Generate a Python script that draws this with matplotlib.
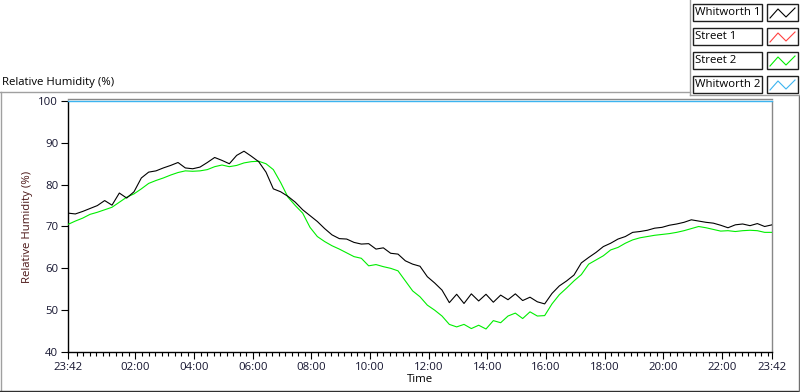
import numpy as np
import matplotlib
matplotlib.use('Agg')
import matplotlib.pyplot as plt
from matplotlib.lines import Line2D
from matplotlib.patches import Rectangle

plt.rcParams['font.family'] = ['Open Sans', 'DejaVu Sans']
plt.rcParams['font.size'] = 8.2

W, H = 800, 392

# time axis: 24 h starting at 23:42, samples every 15 min
start_label = '23:42'
sample_step = 15
tick_labels = ['23:42', '02:00', '04:00', '06:00', '08:00', '10:00', '12:00',
               '14:00', '16:00', '18:00', '20:00', '22:00', '23:42']
y_ticks = [40, 50, 60, 70, 80, 90, 100]

whitworth1 = [73.2, 73.0, 73.6, 74.3, 75.0, 76.2, 75.1, 78.0, 76.8, 78.3,
              81.6, 83.0, 83.3, 84.0, 84.6, 85.3, 84.0, 83.8, 84.2, 85.3,
              86.5, 85.8, 85.0, 87.0, 88.0, 86.8, 85.5, 83.0, 79.0, 78.3,
              77.2, 75.8, 74.0, 72.6, 71.2, 69.5, 68.0, 67.1, 67.0, 66.2,
              65.8, 65.9, 64.6, 64.9, 63.6, 63.4, 61.8, 61.0, 60.5, 58.0,
              56.5, 54.8, 51.8, 53.8, 51.6, 53.9, 52.2, 53.8, 51.9, 53.6,
              52.5, 53.9, 52.3, 53.1, 52.0, 51.5, 54.0, 55.8, 57.0, 58.4,
              61.3, 62.6, 63.8, 65.2, 66.0, 67.0, 67.6, 68.6, 68.8, 69.1,
              69.6, 69.8, 70.3, 70.6, 71.0, 71.6, 71.3, 71.0, 70.8, 70.3,
              69.7, 70.4, 70.6, 70.2, 70.7, 70.0, 70.4]

street2 = [70.5, 71.3, 72.0, 72.9, 73.4, 74.0, 74.6, 75.8, 77.0, 77.8,
           79.0, 80.3, 81.0, 81.6, 82.3, 82.9, 83.3, 83.2, 83.3, 83.6,
           84.3, 84.7, 84.3, 84.6, 85.2, 85.5, 85.6, 85.0, 83.6, 80.5,
           77.0, 75.0, 73.2, 69.8, 67.6, 66.4, 65.4, 64.6, 63.7, 62.8,
           62.4, 60.6, 60.9, 60.4, 60.0, 59.4, 57.0, 54.6, 53.2, 51.2,
           50.0, 48.6, 46.6, 46.0, 46.6, 45.6, 46.4, 45.5, 47.5, 47.0,
           48.6, 49.3, 48.0, 49.6, 48.6, 48.7, 51.5, 53.7, 55.3, 57.0,
           58.5, 61.0, 62.0, 63.0, 64.4, 65.0, 66.0, 66.8, 67.3, 67.6,
           67.9, 68.1, 68.3, 68.6, 69.0, 69.5, 70.0, 69.7, 69.3, 68.9,
           69.0, 68.8, 69.0, 69.1, 69.0, 68.6, 68.6]

whitworth2 = [100.0, 100.0]
street1 = []

names = ['Whitworth 1', 'Street 1', 'Street 2', 'Whitworth 2']
colors = ['#000000', '#ff4040', '#00ee00', '#3cb4f0']


def clock_to_offset(label):
    h, m = map(int, label.split(':'))
    sh, sm = map(int, start_label.split(':'))
    return (h * 60 + m - (sh * 60 + sm)) % 1440


def fx(x):
    return x / W


def fy(y):
    return 1 - y / H


tick_pos = [clock_to_offset(l) for l in tick_labels]
tick_pos[-1] = 1440
minor = np.arange(tick_pos[1] - 120, 1441, 120 / 9)
minor = [m for m in minor if 0 < m < 1440 and min(abs(m - p) for p in tick_pos) > 1]

fig = plt.figure(figsize=(8, 3.92), dpi=100)
ax = fig.add_axes([fx(68), fy(352), fx(772) - fx(68), fy(101) - fy(352)])

t_w1 = np.arange(len(whitworth1)) * sample_step
t_s2 = np.arange(len(street2)) * sample_step
t_w2 = np.array([0, 1440])

ax.plot(t_w2, whitworth2, color=colors[3], lw=1.0, zorder=2.6, clip_on=False)
ax.plot(t_s2, street2, color=colors[2], lw=0.8, zorder=3)
ax.plot(t_w1, whitworth1, color=colors[0], lw=0.8, zorder=4)

ax.set_xlim(0, 1440)
ax.set_ylim(40, 100)
ax.set_xticks(tick_pos)
ax.set_xticklabels(tick_labels)
ax.set_xticks(minor, minor=True)
ax.set_yticks(y_ticks)
ax.tick_params(axis='both', which='major', length=5, width=0.8, direction='out',
               colors='black', labelcolor='#151530', pad=2)
ax.tick_params(axis='x', which='minor', length=3, width=0.8, direction='out')
ax.set_xlabel('Time', labelpad=1)
ax.set_ylabel('Relative Humidity (%)', color='#4a1515', labelpad=4)

for side in ['left', 'bottom']:
    ax.spines[side].set_color('black')
    ax.spines[side].set_linewidth(1)
for side in ['top', 'right']:
    ax.spines[side].set_color('#888888')
    ax.spines[side].set_linewidth(1)
ax.spines['top'].set_position(('outward', 1.2))

# graph panel title and frame
fig.text(fx(2), fy(82), 'Relative Humidity (%)', ha='left', va='center')
frame_lines = [
    ((0, 690), (92, 92), '#a0a0a0'),
    ((1, 1), (92, 391), '#a0a0a0'),
    ((0, 800), (391, 391), '#303030'),
    ((799, 799), (95, 391), '#707070'),
    ((690, 690), (0, 95), '#a0a0a0'),
    ((690, 800), (95, 95), '#a0a0a0'),
]
for xs, ys, c in frame_lines:
    fig.add_artist(Line2D([fx(x) for x in xs], [fy(y) for y in ys], color=c, lw=1))

# legend panel
for i, (name, c) in enumerate(zip(names, colors)):
    top = 4 + 24 * i
    fig.add_artist(Rectangle((fx(693), fy(top + 17)), fx(69), fy(0) - fy(17),
                             facecolor='white', edgecolor='#202020', lw=1))
    fig.add_artist(Rectangle((fx(767), fy(top + 17)), fx(31), fy(0) - fy(17),
                             facecolor='white', edgecolor='#202020', lw=1))
    fig.text(fx(695), fy(top + 8.5), name, ha='left', va='center')
    zx = [770, 778, 786, 795]
    zy = [top + 14, top + 5, top + 13, top + 4]
    fig.add_artist(Line2D([fx(x) for x in zx], [fy(y) for y in zy], color=c, lw=0.8))

fig.savefig('out.png', dpi=100)
